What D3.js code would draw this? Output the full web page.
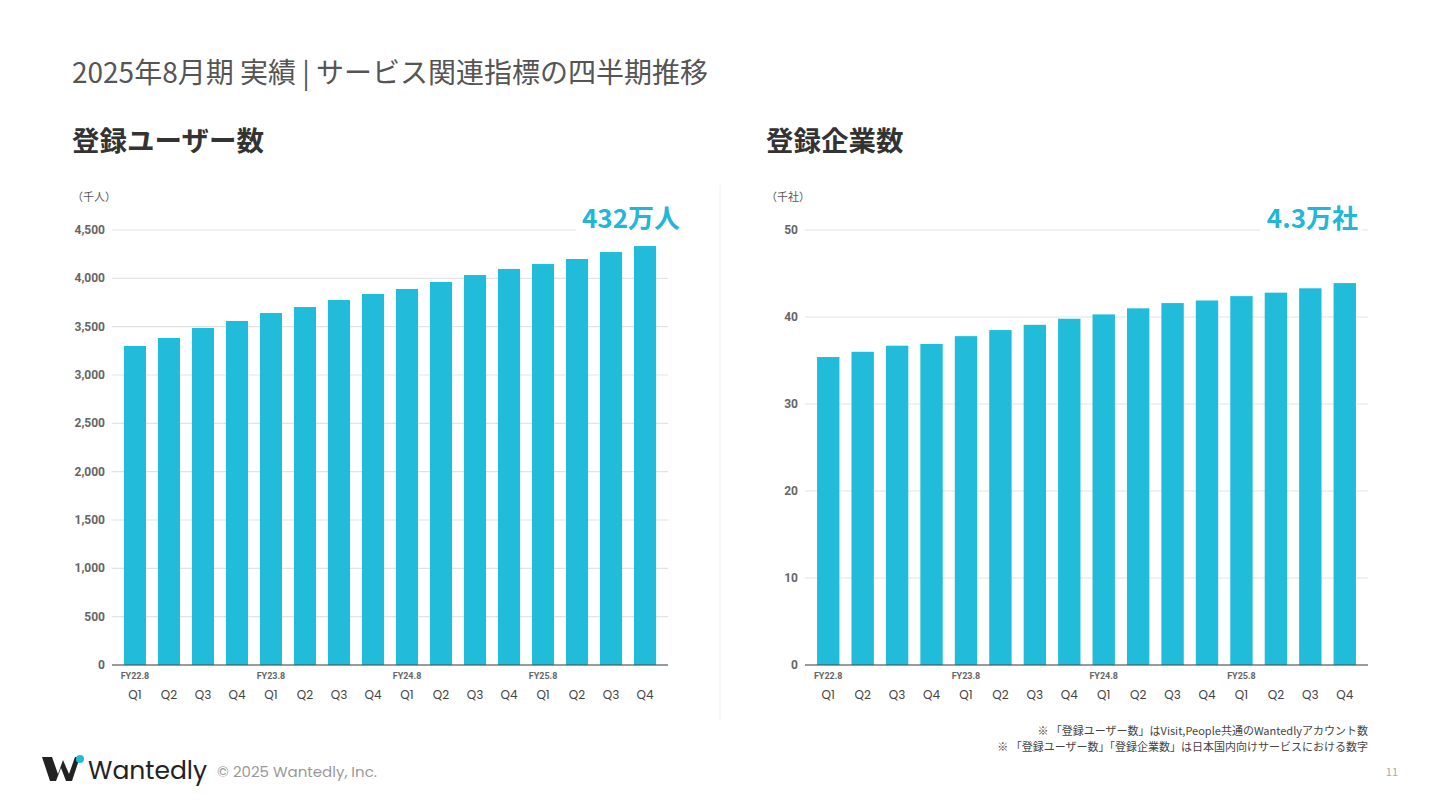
<!DOCTYPE html>
<html><head><meta charset="utf-8">
<script src="https://cdn.jsdelivr.net/npm/d3@7"></script>
<style>body{margin:0;background:#fff;font-family:"Noto Sans CJK JP","Noto Sans",sans-serif}</style>
</head><body><svg id="c" width="1440" height="810"></svg>
<script>
const quarters=["Q1","Q2","Q3","Q4","Q1","Q2","Q3","Q4","Q1","Q2","Q3","Q4","Q1","Q2","Q3","Q4"];
const fyLabels=["FY22.8","FY23.8","FY24.8","FY25.8"];
const users=[3300,3383,3486,3559,3641,3703,3776,3838,3890,3962,4034,4097,4148,4200,4272,4334];
const companies=[35.4,36.0,36.7,36.9,37.8,38.5,39.1,39.8,40.3,41.0,41.6,41.9,42.4,42.8,43.3,43.9];
const userTicks=[0,500,1000,1500,2000,2500,3000,3500,4000,4500];
const compTicks=[0,10,20,30,40,50];
const svg=d3.select("#c");
const F='"Noto Sans CJK JP","Noto Sans",sans-serif';
svg.append("text").attr("x",72).attr("y",83).attr("font-size",28).attr("fill","#555").attr("font-family",F).text("2025年8月期 実績 | サービス関連指標の四半期推移");
svg.append("line").attr("x1",720).attr("x2",720).attr("y1",185).attr("y2",720).attr("stroke","#eee");
function chart(o){
  svg.append("text").attr("x",o.tx).attr("y",151).attr("font-size",27.5).attr("font-weight",700).attr("fill","#333").attr("font-family",F).text(o.title);
  svg.append("text").attr("x",o.tx).attr("y",201).attr("font-size",11).attr("fill","#555").attr("font-family",F).text(o.unit);
  const x=d3.scaleBand().domain(d3.range(16)).range([o.x0,o.x1]).paddingInner(0.35).paddingOuter(0.35);
  const y=d3.scaleLinear().domain([0,o.max]).range([665,230]);
  const g=svg.append("g");
  g.selectAll(".gl").data(o.ticks).enter().append("line").attr("x1",o.x0).attr("x2",o.x1).attr("y1",d=>y(d)).attr("y2",d=>y(d)).attr("stroke","#e3e3e3").attr("stroke-width",1.2);
  g.selectAll(".tl").data(o.ticks).enter().append("text").attr("x",o.x0-7).attr("y",d=>y(d)+4).attr("text-anchor","end").attr("font-size",12).attr("font-weight",700).attr("fill","#666").attr("font-family","Roboto,sans-serif").text(d=>d3.format(",")(d));
  g.selectAll("rect.b").data(o.data).enter().append("rect").attr("class","b").attr("x",(d,i)=>x(i)).attr("width",x.bandwidth()).attr("y",d=>y(d)).attr("height",d=>665-y(d)).attr("fill","#22bcdb");
  g.append("line").attr("x1",o.x0).attr("x2",o.x1).attr("y1",665).attr("y2",665).attr("stroke","#444").attr("stroke-width",1.2);
  g.selectAll(".q").data(quarters).enter().append("text").attr("x",(d,i)=>x(i)+x.bandwidth()/2).attr("y",699).attr("text-anchor","middle").attr("font-size",12).attr("fill","#444").attr("font-family","Poppins,Lato,sans-serif").text(d=>d);
  g.selectAll(".fy").data(fyLabels).enter().append("text").attr("x",(d,i)=>x(i*4)+x.bandwidth()/2).attr("y",679).attr("text-anchor","middle").attr("font-size",9).attr("font-weight",700).attr("fill","#666").attr("font-family","Roboto,sans-serif").text(d=>d);
  const bx=o.x1+o.off;
  g.append("rect").attr("x",bx-o.bw).attr("y",200).attr("width",o.bw+4).attr("height",34).attr("fill","#fff");
  g.append("text").attr("x",bx).attr("y",228).attr("text-anchor","end").attr("font-size",26).attr("font-weight",700).attr("fill","#22b6d8").attr("font-family",F).text(o.big);
}
chart({tx:72,title:"登録ユーザー数",unit:"（千人）",x0:112,x1:668,max:4500,ticks:userTicks,data:users,big:"432万人",bw:104,off:12});
chart({tx:766,title:"登録企業数",unit:"（千社）",x0:805,x1:1368,max:50,ticks:compTicks,data:companies,big:"4.3万社",bw:98,off:-10});
const notes=["※ 「登録ユーザー数」はVisit,People共通のWantedlyアカウント数","※ 「登録ユーザー数」「登録企業数」は日本国内向けサービスにおける数字"];
svg.selectAll(".n").data(notes).enter().append("text").attr("x",1368).attr("y",(d,i)=>735+i*16).attr("text-anchor","end").attr("font-size",11).attr("fill","#444").attr("font-family",F).text(d=>d);
svg.append("path").attr("d","M42,757 L52,757 L58,774 L63,760 L69,774 L75,757 L80,757 L72,781 L66,781 L61,768 L56,781 L50,781 Z").attr("fill","#222");
svg.append("circle").attr("cx",80).attr("cy",759).attr("r",4).attr("fill","#22bcdb");
svg.append("text").attr("x",88).attr("y",779).attr("font-size",25).attr("fill","#222").attr("font-family","Poppins,Lato,sans-serif").text("Wantedly");
svg.append("text").attr("x",217).attr("y",777).attr("font-size",15).attr("fill","#999").attr("font-family","Poppins,Lato,sans-serif").text("© 2025 Wantedly, Inc.");
svg.append("text").attr("x",1398).attr("y",776).attr("text-anchor","end").attr("font-size",11).attr("fill","#aaa").text("11");
</script></body></html>
